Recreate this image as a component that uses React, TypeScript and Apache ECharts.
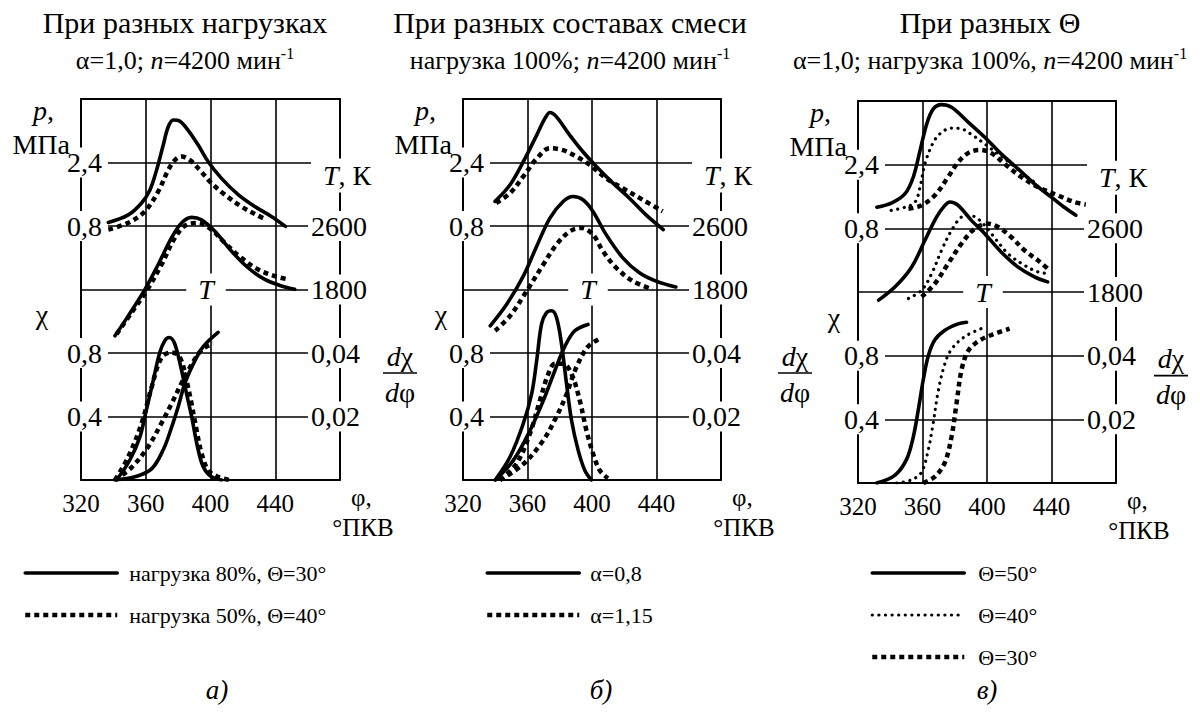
import React, { useEffect, useRef } from 'react';
import * as echarts from 'echarts';

type Pt = [number, number];

const FONT = 'Liberation Serif, DejaVu Serif, serif';

// ---------- axes ----------
const PHI_MIN = 320;
const PHI_MAX = 480;
const PHI_STEP = 40;
const PHI_TICK_LABELS = ['320', '360', '400', '440', ''];
const GRID_LEVELS = 6;
const LEFT_TICK_LABELS = ['', '0,4', '0,8', '', '0,8', '2,4', ''];
const RIGHT_TICK_LABELS = ['', '0,02', '0,04', '1800', '2600', '', ''];
// hidden physical scales (value at grid bottom, value at grid top)
const P_RANGE: Pt = [-5.6, 4.0];
const T_RANGE: Pt = [-600, 4200];
const CHI_RANGE: Pt = [0, 2.4];
const DCHI_RANGE: Pt = [0, 0.12];

// ---------- panel а) ----------
const A_NAMES = ['нагрузка 80%, Θ=30°', 'нагрузка 50%, Θ=40°'];
const A_P_1: Pt[] = [[336.9, 0.89], [349.2, 1.08], [357.4, 1.38], [362.6, 1.71], [366.7, 2.21], [370.8, 2.84], [373.9, 3.3], [377.0, 3.47], [381.1, 3.44], [386.2, 3.21], [392.4, 2.84], [398.6, 2.42], [406.8, 2.0], [417.1, 1.59], [427.4, 1.29], [437.6, 1.04], [446.3, 0.79]];
const A_P_2: Pt[] = [[336.9, 0.71], [349.2, 0.88], [359.5, 1.17], [367.7, 1.67], [373.9, 2.21], [378.0, 2.46], [382.1, 2.55], [387.3, 2.46], [393.4, 2.21], [400.6, 1.88], [408.8, 1.59], [419.1, 1.29], [428.4, 1.08], [434.6, 0.96]];
const A_T_1: Pt[] = [[341, 1217], [349.2, 1468], [359.5, 1802], [367.7, 2115], [375.9, 2450], [382.1, 2638], [388.3, 2709], [394.4, 2679], [402.7, 2533], [413, 2282], [423.2, 2074], [433.5, 1927], [443.8, 1844], [452, 1802]];
const A_T_2: Pt[] = [[342, 1238], [351.3, 1510], [360.5, 1782], [369.8, 2115], [378, 2450], [385.2, 2617], [392.4, 2638], [400.6, 2554], [408.8, 2387], [419.1, 2199], [429.4, 2053], [439.7, 1969], [447.9, 1927]];
const A_CHI_1: Pt[] = [[341, 0], [353.3, 0.02], [363.6, 0.07], [370.8, 0.19], [375.9, 0.33], [380, 0.46], [384.2, 0.61], [389.3, 0.73], [395.5, 0.84], [404.7, 0.93]];
const A_CHI_2: Pt[] = [[341, 0], [351.3, 0.08], [361.5, 0.21], [369.8, 0.36], [375.9, 0.48], [382.1, 0.61], [387.3, 0.71], [394.5, 0.82], [401.6, 0.86]];
const A_DCHI_1: Pt[] = [[342, 0], [350.2, 0.0063], [356.4, 0.0136], [359.5, 0.0201], [364.6, 0.0313], [368.7, 0.0402], [371.8, 0.0439], [374.5, 0.0449], [377.6, 0.0433], [381.7, 0.0355], [385.2, 0.0272], [388.3, 0.0201], [392, 0.0104], [395.5, 0.0042], [400.6, 0.001], [406.8, 0]];
const A_DCHI_2: Pt[] = [[341, 0], [349.2, 0.0073], [357.4, 0.0178], [363.6, 0.0292], [369.8, 0.0386], [376, 0.0402], [381.1, 0.0386], [385.2, 0.0313], [388.3, 0.024], [391.4, 0.0157], [394.5, 0.0084], [398.6, 0.0031], [404.7, 0.001], [411.9, 0]];

// ---------- panel б) ----------
const B_NAMES = ['α=0,8', 'α=1,15'];
const B_P_1: Pt[] = [[339.9, 1.42], [349.2, 1.84], [357.4, 2.42], [365.7, 3.09], [370.8, 3.51], [373.9, 3.66], [378, 3.55], [386.2, 3.09], [394.4, 2.67], [402.7, 2.3], [413, 1.88], [423.2, 1.5], [433.5, 1.08], [444.2, 0.71]];
const B_P_2: Pt[] = [[340.6, 1.38], [349.2, 1.63], [357.4, 2.05], [365.7, 2.5], [373.9, 2.76], [382.1, 2.71], [390.3, 2.55], [398.6, 2.34], [408.8, 2.0], [419.1, 1.75], [431.5, 1.46], [443.8, 1.17]];
const B_T_1: Pt[] = [[336.9, 1343], [347.1, 1614], [357.4, 1969], [365.7, 2345], [373.9, 2700], [382.1, 2909], [388.3, 2972], [394.4, 2930], [400.6, 2784], [408.8, 2491], [419.1, 2199], [429.4, 2011], [439.7, 1906], [452, 1831]];
const B_T_2: Pt[] = [[339.9, 1280], [349.2, 1468], [359.5, 1782], [369.8, 2115], [378, 2366], [386.2, 2533], [393.4, 2575], [400.6, 2491], [406.8, 2282], [415, 2074], [425.3, 1906], [437.6, 1802]];
const B_CHI_1: Pt[] = [[340, 0], [351.3, 0.125], [361.5, 0.31], [369.8, 0.5], [377, 0.69], [383.1, 0.84], [389.3, 0.94], [397.5, 0.98]];
const B_CHI_2: Pt[] = [[343, 0], [357.4, 0.1], [369.8, 0.25], [378, 0.4], [384.2, 0.54], [390.3, 0.71], [397.5, 0.84], [404.7, 0.89]];
const B_DCHI_1: Pt[] = [[340, 0], [349.2, 0.0073], [357.4, 0.0178], [362.6, 0.0272], [365.7, 0.0376], [368.7, 0.0491], [371.8, 0.0527], [374.9, 0.0533], [378, 0.0512], [381.1, 0.0428], [384.2, 0.0303], [387.3, 0.0188], [391.4, 0.0094], [395.5, 0.0031], [399.6, 0]];
const B_DCHI_2: Pt[] = [[343, 0], [353.3, 0.0052], [361.5, 0.0146], [367.7, 0.0251], [372.9, 0.0334], [377, 0.0366], [382.1, 0.0366], [387.3, 0.0334], [392.4, 0.0251], [396.5, 0.0157], [400.6, 0.0084], [404.7, 0.0031], [409.9, 0.0005]];

// ---------- panel в) ----------
const C_NAMES = ['Θ=50°', 'Θ=40°', 'Θ=30°'];
const C_P_1: Pt[] = [[331.7, 1.33], [341, 1.44], [349.2, 1.67], [354.3, 2.09], [358.5, 2.76], [362.6, 3.42], [366.7, 3.8], [371.8, 3.91], [378, 3.84], [388.3, 3.47], [398.6, 3.09], [408.8, 2.67], [419.1, 2.3], [429.4, 1.92], [439.7, 1.59], [447.9, 1.33], [455.1, 1.13]];
const C_P_2: Pt[] = [[340.6, 1.25], [349.2, 1.33], [355.4, 1.46], [358.5, 1.84], [361.5, 2.42], [366.7, 2.96], [371.8, 3.21], [378, 3.32], [384.2, 3.3], [391.4, 3.13], [398.6, 2.92], [406.8, 2.67], [415, 2.42], [423, 2.15], [431.5, 1.9]];
const C_P_3: Pt[] = [[351.3, 1.29], [359.5, 1.38], [367.7, 1.63], [375.9, 2.09], [382.1, 2.46], [388.3, 2.69], [395.5, 2.77], [402.7, 2.69], [410.9, 2.42], [421.2, 2.09], [431.5, 1.84], [443.8, 1.63], [454.1, 1.46], [461.3, 1.4]];
const C_T_1: Pt[] = [[332.8, 1698], [343, 1865], [353.3, 2115], [361.5, 2450], [368.7, 2742], [373.9, 2888], [377, 2930], [382.1, 2888], [390.3, 2700], [398.6, 2533], [408.8, 2303], [419.1, 2115], [429.4, 1990], [437.6, 1927]];
const C_T_2: Pt[] = [[351.3, 1718], [359.5, 1823], [365.7, 2032], [371.8, 2324], [378, 2575], [384.2, 2742], [389.3, 2763], [395.5, 2700], [402.7, 2533], [413, 2282], [423.2, 2136], [431.5, 2053], [437.6, 2032]];
const C_T_3: Pt[] = [[359.5, 1739], [367.7, 1906], [375.9, 2157], [384.2, 2408], [392.4, 2596], [400.6, 2658], [406.8, 2617], [415, 2491], [423.2, 2324], [431.5, 2199], [437.6, 2094]];
const C_CHI_1: Pt[] = [[331.7, 0], [343, 0.05], [350.2, 0.15], [354.3, 0.29], [357.4, 0.46], [360.5, 0.65], [363.6, 0.8], [367.7, 0.9], [373.9, 0.96], [382.1, 1.0], [387.3, 1.01]];
const C_CHI_2: Pt[] = [[344, 0], [353.3, 0.02], [359.5, 0.07], [363.6, 0.21], [366.7, 0.38], [369.8, 0.58], [373.9, 0.75], [378, 0.84], [386.2, 0.92], [396.5, 0.97]];
const C_CHI_3: Pt[] = [[360.5, 0], [367.7, 0.04], [373.9, 0.13], [378, 0.29], [381.1, 0.5], [384.2, 0.71], [388.3, 0.83], [394.5, 0.89], [402.7, 0.93], [414, 0.97]];

// ---------- texts ----------
const TITLE_LINE1 = ['При разных нагрузках', 'При разных составах смеси', 'При разных Θ'];
const TITLE_LINE2 = ['α=1,0; {i|n}=4200 мин{s|-1}', 'нагрузка 100%; {i|n}=4200 мин{s|-1}', 'α=1,0; нагрузка 100%, {i|n}=4200 мин{s|-1}'];
const PANEL_LETTERS = ['а)', 'б)', 'в)'];

// ---------- layout / styles ----------
const PANEL_BOXES = [
  { left: 81, top: 99, width: 259, height: 381 },
  { left: 463, top: 99, width: 258, height: 381 },
  { left: 858, top: 101, width: 258, height: 382 },
];
const TITLE_X = [185, 570, 990];
const CHI_LABEL_X = [42, 441, 834];
const FRACTION_X = [400, 795, 1171];
const LETTER_X = [217, 601, 987];
const LEGEND_LEFT = [18, 480, 865];
const LEGEND_TEXT_GAP = [7, 6, 9];
const FRAME = { color: '#000', width: 1.6 };

const LINE_STYLES: Record<string, any> = {
  solid: { color: '#000', width: 3.6, type: 'solid', cap: 'round' },
  dotted: { color: '#000', width: 4.5, type: [5, 4], cap: 'butt' },
  fine: { color: '#000', width: 3.2, type: [0.1, 6.5], cap: 'round' },
};

const PANELS = [
  { names: A_NAMES, styles: ['solid', 'dotted'], p: [A_P_1, A_P_2], T: [A_T_1, A_T_2], chi: [A_CHI_1, A_CHI_2], dchi: [A_DCHI_1, A_DCHI_2] },
  { names: B_NAMES, styles: ['solid', 'dotted'], p: [B_P_1, B_P_2], T: [B_T_1, B_T_2], chi: [B_CHI_1, B_CHI_2], dchi: [B_DCHI_1, B_DCHI_2] },
  { names: C_NAMES, styles: ['solid', 'fine', 'dotted'], p: [C_P_1, C_P_2, C_P_3], T: [C_T_1, C_T_2, C_T_3], chi: [C_CHI_1, C_CHI_2, C_CHI_3], dchi: [] as Pt[][] },
];

function txt(x: number, y: number, text: string, extra: any = {}) {
  return {
    type: 'text',
    x,
    y,
    z: 100,
    silent: true,
    style: {
      text,
      fill: '#000',
      fontSize: 28,
      fontFamily: FONT,
      align: 'center',
      verticalAlign: 'middle',
      ...extra,
    },
  };
}

const richItalic = (size: number) => ({ fontStyle: 'italic', fontSize: size, fontFamily: FONT, color: '#000' });
const richNormal = (size: number) => ({ fontSize: size, fontFamily: FONT, color: '#000' });

function buildOption() {
  const grid: any[] = [];
  const xAxis: any[] = [];
  const yAxis: any[] = [];
  const series: any[] = [];
  const legend: any[] = [];
  const graphic: any[] = [];

  PANEL_BOXES.forEach((b, i) => {
    grid.push({ left: b.left, top: b.top, width: b.width, height: b.height, show: true, borderColor: '#000', borderWidth: FRAME.width, containLabel: false });
    xAxis.push({
      gridIndex: i,
      type: 'value',
      position: 'bottom',
      min: PHI_MIN,
      max: PHI_MAX,
      interval: PHI_STEP,
      axisLine: { show: true, onZero: false, lineStyle: FRAME },
      axisTick: { show: false },
      splitLine: { show: true, showMinLine: true, showMaxLine: true, lineStyle: FRAME },
      axisLabel: {
        formatter: (v: number) => PHI_TICK_LABELS[Math.round((v - PHI_MIN) / PHI_STEP)] || '',
        fontSize: 25,
        fontFamily: FONT,
        color: '#000',
        margin: 11,
      },
    });
    // top frame line
    xAxis.push({
      gridIndex: i,
      type: 'value',
      position: 'top',
      min: PHI_MIN,
      max: PHI_MAX,
      interval: PHI_STEP,
      axisLine: { show: true, onZero: false, lineStyle: FRAME },
      axisTick: { show: false },
      axisLabel: { show: false },
      splitLine: { show: false },
    });
    // cell axes for grid lines and tick labels
    yAxis.push({
      gridIndex: i,
      type: 'value',
      min: 0,
      max: GRID_LEVELS,
      interval: 1,
      position: 'left',
      axisLine: { show: true, onZero: false, lineStyle: FRAME },
      axisTick: { show: false },
      splitLine: { show: true, showMinLine: true, showMaxLine: true, lineStyle: FRAME },
      axisLabel: {
        margin: -27,
        formatter: (v: number) => {
          const s = LEFT_TICK_LABELS[Math.round(v)];
          return s ? `{b|${s}}` : '';
        },
        rich: { b: { ...richNormal(28), backgroundColor: '#fff', padding: [1, 6, 1, 0] } },
      },
    });
    yAxis.push({
      gridIndex: i,
      type: 'value',
      min: 0,
      max: GRID_LEVELS,
      interval: 1,
      position: 'right',
      axisLine: { show: true, onZero: false, lineStyle: FRAME },
      axisTick: { show: false },
      splitLine: { show: false },
      axisLabel: {
        margin: -32,
        formatter: (v: number) => {
          const s = RIGHT_TICK_LABELS[Math.round(v)];
          return s ? `{b|${s}}` : '';
        },
        rich: { b: { ...richNormal(28), backgroundColor: '#fff', padding: [1, 0, 1, 3] } },
      },
    });
    [P_RANGE, T_RANGE, CHI_RANGE, DCHI_RANGE].forEach((r) => {
      yAxis.push({ gridIndex: i, type: 'value', min: r[0], max: r[1], show: false, splitLine: { show: false } });
    });

    const pd = PANELS[i];
    const base = i * 6;
    pd.names.forEach((name, k) => {
      const ls = LINE_STYLES[pd.styles[k]];
      const add = (data: Pt[] | undefined, axis: number) => {
        if (!data) return;
        series.push({
          type: 'line',
          name,
          xAxisIndex: i * 2,
          yAxisIndex: base + axis,
          data,
          symbol: 'none',
          showSymbol: false,
          smooth: 0.35,
          lineStyle: ls,
          silent: true,
          z: 3,
          emphasis: { disabled: true },
        });
      };
      add(pd.p[k], 2);
      add(pd.T[k], 3);
      add(pd.chi[k], 4);
      add(pd.dchi[k], 5);
    });

    legend.push({
      left: LEGEND_LEFT[i],
      top: 557,
      orient: 'vertical',
      itemWidth: 92,
      itemHeight: 16,
      itemGap: 20,
      selectedMode: false,
      itemStyle: { opacity: 0 },
      textStyle: { fontSize: 22, fontFamily: FONT, color: '#000', padding: [0, 0, 0, LEGEND_TEXT_GAP[i]] },
      data: pd.names.map((name, k) => ({ name, lineStyle: { ...LINE_STYLES[pd.styles[k]] } })),
    });

    // ---- texts ----
    const L = b.left;
    const R = b.left + b.width;
    const lvl = (k: number) => b.top + b.height * (1 - k / GRID_LEVELS);
    const bottom = b.top + b.height;

    graphic.push(txt(TITLE_X[i], 22, TITLE_LINE1[i], { fontSize: 30 }));
    graphic.push(
      txt(TITLE_X[i], 60, TITLE_LINE2[i], {
        fontSize: 26,
        rich: { a: richNormal(26), i: richItalic(26), s: { ...richNormal(16), verticalAlign: 'top', padding: [0, 0, 14, 0] } },
      })
    );
    graphic.push(txt(L - 27, b.top + 11, '{i|p},', { align: 'right', rich: { i: richItalic(28) } }));
    graphic.push(txt(L - 11, b.top + 45, 'МПа', { align: 'right' }));
    graphic.push(
      txt(R - 29, lvl(5) + 13, '{i|T}, К', {
        align: 'left',
        backgroundColor: '#fff',
        padding: [3, 4, 3, 12],
        rich: { i: richItalic(28) },
      })
    );
    graphic.push(txt(L + 125, lvl(3), '{i|T}', { backgroundColor: '#fff', padding: [2, 12, 2, 12], rich: { i: richItalic(28) } }));
    graphic.push(txt(CHI_LABEL_X[i], lvl(3) + 25, 'χ'));
    const fx = FRACTION_X[i];
    graphic.push(txt(fx, lvl(2) + 3, '{i|d}χ', { rich: { i: richItalic(28) } }));
    graphic.push({ type: 'line', z: 100, silent: true, shape: { x1: fx - 17, y1: lvl(2) + 20, x2: fx + 17, y2: lvl(2) + 20 }, style: { stroke: '#000', lineWidth: 1.6 } });
    graphic.push(txt(fx, lvl(2) + 39, '{i|d}φ', { rich: { i: richItalic(28) } }));
    graphic.push(txt(R + 11, bottom + 17, 'φ,', { align: 'left', fontSize: 25 }));
    graphic.push(txt(R + 23, bottom + 47, '°ПКВ', { fontSize: 25 }));
    graphic.push(txt(LETTER_X[i], 690, PANEL_LETTERS[i], { fontSize: 27, fontStyle: 'italic' }));
  });

  return {
    animation: false,
    backgroundColor: '#fff',
    textStyle: { fontFamily: FONT },
    tooltip: { show: false },
    grid,
    xAxis,
    yAxis,
    series,
    legend,
    graphic,
  };
}

export default function App() {
  const ref = useRef<HTMLDivElement>(null);
  useEffect(() => {
    document.body.style.margin = '0';
    if (!ref.current) return;
    const chart = echarts.init(ref.current, undefined, { renderer: 'svg' });
    chart.setOption(buildOption() as any);
    return () => chart.dispose();
  }, []);
  return (
    <div style={{ position: 'fixed', left: 0, top: 0, width: 1200, height: 722 }}>
      <div ref={ref} style={{ width: 1200, height: 722, background: '#fff' }} />
    </div>
  );
}
